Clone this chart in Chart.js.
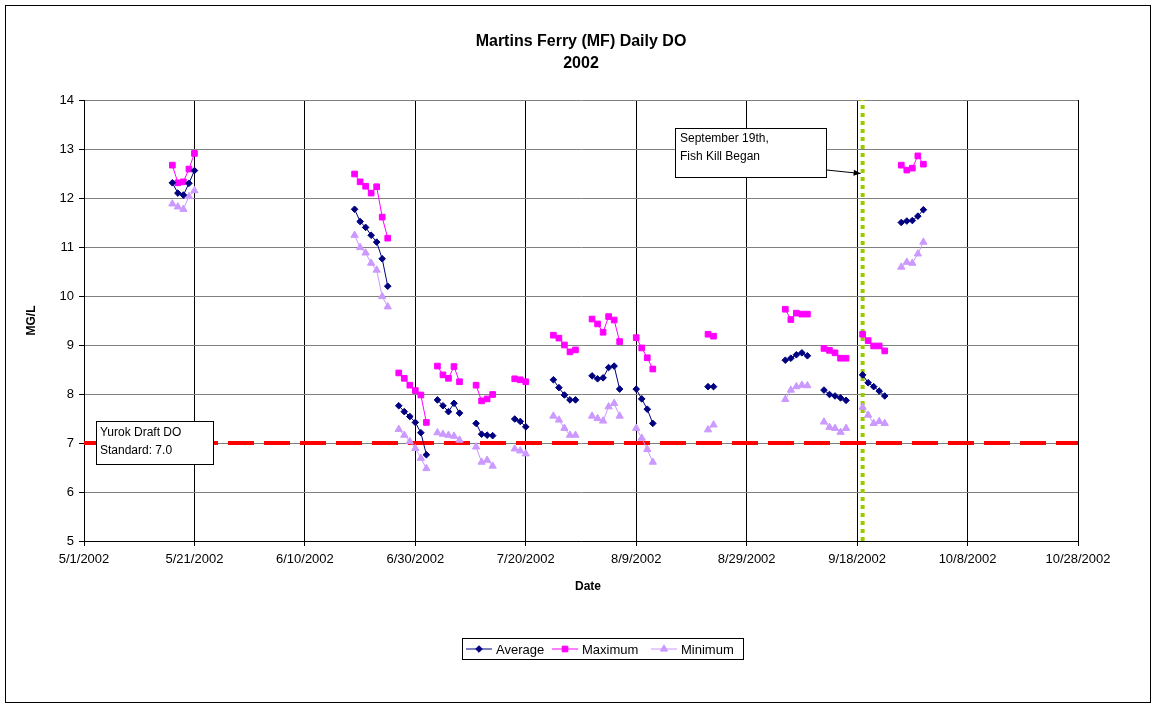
<!DOCTYPE html>
<html>
<head>
<meta charset="utf-8">
<title>Martins Ferry (MF) Daily DO 2002</title>
<script src="https://cdn.jsdelivr.net/npm/chart.js@4/dist/chart.umd.min.js"></script>
<style>
  html, body { margin: 0; padding: 0; background: #ffffff; }
  canvas { display: block; }
</style>
</head>
<body>
<canvas id="chart" width="1156" height="705"></canvas>
<script>
// Daily dissolved oxygen readings, Martins Ferry (MF), 2002
const sampleDates = [
  '5/17/2002','5/18/2002','5/19/2002','5/20/2002','5/21/2002',
  '6/19/2002','6/20/2002','6/21/2002','6/22/2002','6/23/2002','6/24/2002','6/25/2002',
  '6/27/2002','6/28/2002','6/29/2002','6/30/2002','7/1/2002','7/2/2002',
  '7/4/2002','7/5/2002','7/6/2002','7/7/2002','7/8/2002',
  '7/11/2002','7/12/2002','7/13/2002','7/14/2002',
  '7/18/2002','7/19/2002','7/20/2002',
  '7/25/2002','7/26/2002','7/27/2002','7/28/2002','7/29/2002',
  '8/1/2002','8/2/2002','8/3/2002','8/4/2002','8/5/2002','8/6/2002',
  '8/9/2002','8/10/2002','8/11/2002','8/12/2002',
  '8/22/2002','8/23/2002',
  '9/5/2002','9/6/2002','9/7/2002','9/8/2002','9/9/2002',
  '9/12/2002','9/13/2002','9/14/2002','9/15/2002','9/16/2002',
  '9/19/2002','9/20/2002','9/21/2002','9/22/2002','9/23/2002',
  '9/26/2002','9/27/2002','9/28/2002','9/29/2002','9/30/2002'
];

const averageDO = [
  12.31, 12.10, 12.06, 12.30, 12.56,
  11.77, 11.52, 11.40, 11.24, 11.10, 10.76, 10.20,
  7.76, 7.64, 7.54, 7.42, 7.21, 6.76,
  7.88, 7.76, 7.64, 7.81, 7.61,
  7.40, 7.18, 7.16, 7.15,
  7.49, 7.44, 7.33,
  8.29, 8.13, 7.98, 7.88, 7.88,
  8.37, 8.31, 8.33, 8.54, 8.57, 8.10,
  8.10, 7.90, 7.69, 7.40,
  8.15, 8.15,
  8.69, 8.73, 8.80, 8.84, 8.78,
  8.08, 7.99, 7.96, 7.92, 7.87,
  8.39, 8.23, 8.15, 8.06, 7.96,
  11.50, 11.53, 11.54, 11.63, 11.76
];

const maximumDO = [
  12.67, 12.31, 12.33, 12.59, 12.91,
  12.49, 12.33, 12.24, 12.10, 12.23, 11.61, 11.18,
  8.43, 8.32, 8.18, 8.07, 7.98, 7.42,
  8.57, 8.39, 8.32, 8.56, 8.25,
  8.18, 7.86, 7.90, 7.99,
  8.31, 8.29, 8.25,
  9.20, 9.14, 9.00, 8.86, 8.90,
  9.53, 9.43, 9.26, 9.58, 9.51, 9.07,
  9.15, 8.94, 8.74, 8.51,
  9.22, 9.18,
  9.73, 9.52, 9.65, 9.63, 9.63,
  8.93, 8.89, 8.84, 8.73, 8.73,
  9.22, 9.09, 8.98, 8.98, 8.88,
  12.67, 12.57, 12.61, 12.86, 12.69
];

const minimumDO = [
  11.88, 11.82, 11.77, 12.03, 12.15,
  11.24, 10.99, 10.88, 10.67, 10.53, 9.99, 9.78,
  7.28, 7.16, 7.03, 6.89, 6.69, 6.48,
  7.21, 7.18, 7.16, 7.14, 7.06,
  6.92, 6.61, 6.65, 6.53,
  6.88, 6.84, 6.78,
  7.55, 7.47, 7.30, 7.16, 7.16,
  7.55, 7.50, 7.45, 7.74, 7.81, 7.55,
  7.30, 7.10, 6.87, 6.61,
  7.27, 7.37,
  7.89, 8.08, 8.15, 8.18, 8.17,
  7.43, 7.32, 7.30, 7.22, 7.30,
  7.73, 7.57, 7.40, 7.44, 7.40,
  10.59, 10.69, 10.67, 10.86, 11.10
];

const xTickLabels = ['5/1/2002','5/21/2002','6/10/2002','6/30/2002','7/20/2002',
                     '8/9/2002','8/29/2002','9/18/2002','10/8/2002','10/28/2002'];
const yTickValues = [5, 6, 7, 8, 9, 10, 11, 12, 13, 14];

const standardDO = 7.0;              // Yurok draft DO standard
const fishKillDate = '9/19/2002';    // start of the fish kill
const fishKillPointer = 12.5;        // height the callout arrow points at

// Day offsets from the first axis date
const originDate = xTickLabels[0];
function toUTC(s) {
  const [m, d, y] = s.split('/').map(Number);
  return Date.UTC(y, m - 1, d);
}
function dayOf(s) {
  return Math.round((toUTC(s) - toUTC(originDate)) / 86400000);
}
function labelOf(day) {
  const dt = new Date(toUTC(originDate) + day * 86400000);
  return (dt.getUTCMonth() + 1) + '/' + dt.getUTCDate() + '/' + dt.getUTCFullYear();
}

const xDays = sampleDates.map(dayOf);
const tickDays = xTickLabels.map(dayOf);
const pts = vals => vals.map((v, i) => ({ x: xDays[i], y: v }));

const FONT = "'Liberation Sans', Arial, Helvetica, sans-serif";

// Only join readings taken on consecutive days
const joinConsecutive = {
  borderColor: ctx => (ctx.p1.parsed.x - ctx.p0.parsed.x > 1.5 ? 'rgba(0,0,0,0)' : undefined)
};

const seriesStyle = (color, shape, radius) => ({
  borderColor: color,
  backgroundColor: color,
  borderWidth: 1,
  pointStyle: shape,
  pointRadius: radius,
  pointHoverRadius: radius,
  pointBorderWidth: 1,
  pointBorderColor: color,
  pointBackgroundColor: color,
  tension: 0,
  segment: joinConsecutive
});

// Frame, titles, callouts and legend
const decorations = {
  id: 'decorations',
  beforeDraw(chart) {
    const c = chart.ctx;
    c.save();
    c.fillStyle = '#ffffff';
    c.fillRect(0, 0, chart.width, chart.height);
    c.restore();
  },
  afterDraw(chart) {
    const c = chart.ctx;
    const area = chart.chartArea;
    const xs = chart.scales.x, ys = chart.scales.y;
    c.save();

    // outer frame
    c.strokeStyle = '#000000';
    c.lineWidth = 1;
    c.strokeRect(5.5, 5.5, 1145, 697);

    // title
    c.fillStyle = '#000000';
    c.textAlign = 'center';
    c.textBaseline = 'middle';
    c.font = 'bold 16px ' + FONT;
    const cx = (area.left + area.right) / 2;
    c.fillText('Martins Ferry (MF) Daily DO', cx, 42);
    c.fillText('2002', cx, 64);

    // axis titles
    c.font = 'bold 12px ' + FONT;
    c.fillText('Date', 588, 587);
    c.save();
    c.translate(32, (area.top + area.bottom) / 2);
    c.rotate(-Math.PI / 2);
    c.fillText('MG/L', 0, 0);
    c.restore();

    // standard callout
    c.font = '12px ' + FONT;
    c.textAlign = 'left';
    c.fillStyle = '#ffffff';
    c.fillRect(96.5, 421.5, 117, 43);
    c.strokeStyle = '#000000';
    c.strokeRect(96.5, 421.5, 117, 43);
    c.fillStyle = '#000000';
    c.fillText('Yurok Draft DO', 100, 433);
    c.fillText('Standard: ' + standardDO.toFixed(1), 100, 451);

    // fish kill callout
    c.fillStyle = '#ffffff';
    c.fillRect(675.5, 128.5, 151, 49);
    c.strokeRect(675.5, 128.5, 151, 49);
    c.fillStyle = '#000000';
    c.fillText('September 19th,', 680, 139);
    c.fillText('Fish Kill Began', 680, 157);

    const tipX = xs.getPixelForValue(dayOf(fishKillDate)) - 2;
    const tipY = ys.getPixelForValue(fishKillPointer);
    const sx = 826.5, sy = 170;
    c.beginPath();
    c.moveTo(sx, sy);
    c.lineTo(tipX, tipY);
    c.strokeStyle = '#000000';
    c.lineWidth = 1;
    c.stroke();
    const ang = Math.atan2(tipY - sy, tipX - sx);
    c.beginPath();
    c.moveTo(tipX, tipY);
    c.lineTo(tipX - 7 * Math.cos(ang) + 3 * Math.sin(ang), tipY - 7 * Math.sin(ang) - 3 * Math.cos(ang));
    c.lineTo(tipX - 7 * Math.cos(ang) - 3 * Math.sin(ang), tipY - 7 * Math.sin(ang) + 3 * Math.cos(ang));
    c.closePath();
    c.fill();

    // legend
    const lx = 462.5, ly = 638.5, lw = 281, lh = 21;
    c.fillStyle = '#ffffff';
    c.fillRect(lx, ly, lw, lh);
    c.strokeStyle = '#000000';
    c.strokeRect(lx, ly, lw, lh);
    const entries = [
      { ds: chart.data.datasets[0], lineX: 466, textX: 496 },
      { ds: chart.data.datasets[1], lineX: 552, textX: 582 },
      { ds: chart.data.datasets[2], lineX: 651, textX: 681 }
    ];
    const my = ly + lh / 2;
    c.font = '13px ' + FONT;
    c.textBaseline = 'middle';
    entries.forEach(e => {
      c.strokeStyle = e.ds.borderColor;
      c.fillStyle = e.ds.borderColor;
      c.lineWidth = 1;
      c.beginPath();
      c.moveTo(e.lineX, my);
      c.lineTo(e.lineX + 26, my);
      c.stroke();
      Chart.helpers.drawPoint(c, {
        pointStyle: e.ds.pointStyle,
        radius: e.ds.pointRadius,
        rotation: 0,
        borderWidth: 1
      }, e.lineX + 13, my);
      c.fillStyle = '#000000';
      c.fillText(e.ds.label, e.textX, my + 1);
    });

    c.restore();
  }
};

new Chart(document.getElementById('chart'), {
  type: 'line',
  data: {
    datasets: [
      Object.assign({ label: 'Average', data: pts(averageDO), order: 1 }, seriesStyle('#000080', 'rectRot', 3.3)),
      Object.assign({ label: 'Maximum', data: pts(maximumDO), order: 2 }, seriesStyle('#FF00FF', 'rect', 4)),
      Object.assign({ label: 'Minimum', data: pts(minimumDO), order: 3 }, seriesStyle('#CC99FF', 'triangle', 4.2)),
      {
        label: 'Standard',
        data: [{ x: tickDays[0], y: standardDO }, { x: tickDays[tickDays.length - 1], y: standardDO }],
        borderColor: '#FF0000',
        borderWidth: 4,
        borderDash: [26, 10],
        pointRadius: 0,
        order: 4
      },
      {
        label: 'Fish Kill',
        data: [{ x: dayOf(fishKillDate), y: yTickValues[0] }, { x: dayOf(fishKillDate), y: yTickValues[yTickValues.length - 1] }],
        borderColor: '#99CC00',
        borderWidth: 4,
        borderDash: [4, 4],
        pointRadius: 0,
        order: 5
      }
    ]
  },
  options: {
    responsive: false,
    animation: false,
    events: [],
    layout: { padding: { left: 0, top: 100, right: 78, bottom: 0 } },
    plugins: {
      legend: { display: false },
      title: { display: false },
      tooltip: { enabled: false }
    },
    scales: {
      x: {
        type: 'linear',
        min: tickDays[0],
        max: tickDays[tickDays.length - 1],
        afterFit: s => { s.height = 164; },
        afterBuildTicks: s => { s.ticks = tickDays.map(v => ({ value: v })); },
        ticks: {
          autoSkip: false,
          maxRotation: 0,
          minRotation: 0,
          padding: 6,
          color: '#000000',
          font: { family: FONT, size: 13 },
          callback: v => labelOf(v)
        },
        grid: { color: '#000000', lineWidth: 1, tickLength: 5 },
        border: { display: true, color: '#000000', width: 1 }
      },
      y: {
        min: yTickValues[0],
        max: yTickValues[yTickValues.length - 1],
        afterFit: s => { s.width = 84; },
        afterBuildTicks: s => { s.ticks = yTickValues.map(v => ({ value: v })); },
        ticks: {
          padding: 5,
          color: '#000000',
          font: { family: FONT, size: 13 }
        },
        grid: { color: '#808080', lineWidth: 1, tickLength: 5, tickColor: '#000000' },
        border: { display: true, color: '#000000', width: 1 }
      }
    }
  },
  plugins: [decorations]
});
</script>
</body>
</html>
